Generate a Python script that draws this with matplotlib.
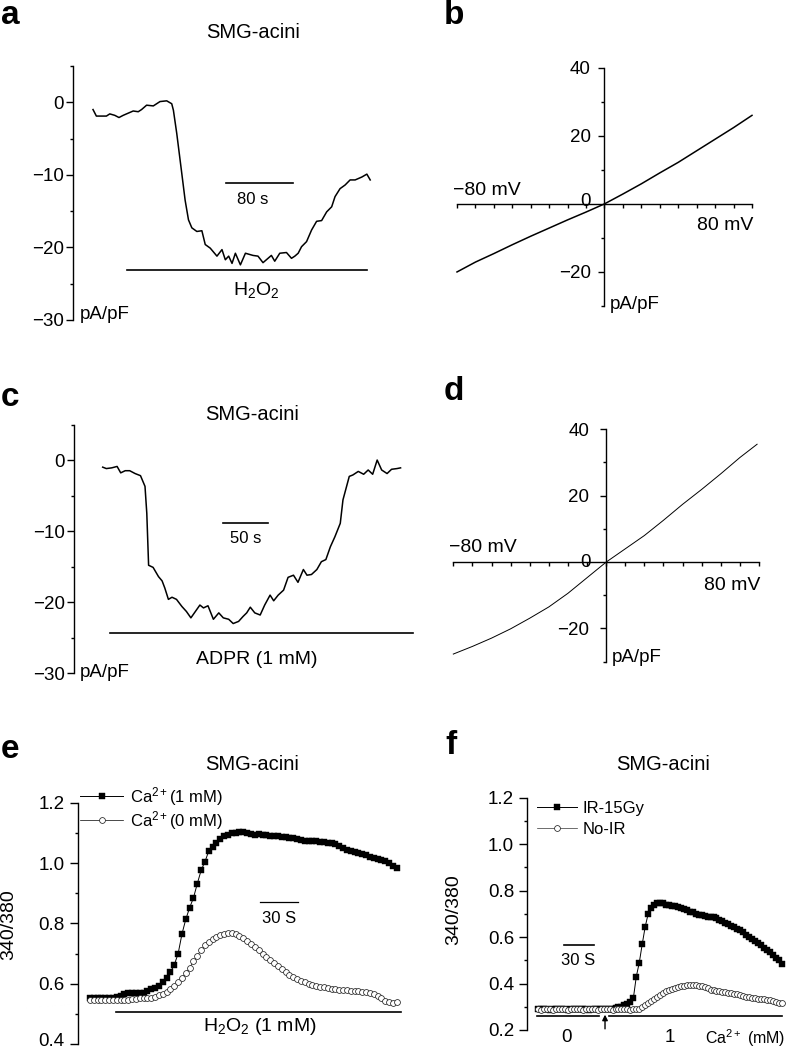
import matplotlib
matplotlib.use('Agg')
import matplotlib.pyplot as plt
import matplotlib.transforms as mtransforms
import numpy as np

plt.rcParams['font.family'] = ['Liberation Sans', 'DejaVu Sans']
plt.rcParams['mathtext.fontset'] = 'custom'
plt.rcParams['mathtext.rm'] = 'Liberation Sans'
plt.rcParams['mathtext.it'] = 'Liberation Sans:italic'
plt.rcParams['mathtext.bf'] = 'Liberation Sans:bold'

# ---------------- data ----------------
# panel a: H2O2-induced current (time in s, current in pA/pF)
a_time = [0, 4, 12, 16, 20, 26, 31, 36, 42, 48, 54, 58, 64, 72, 80, 88, 94, 96, 100, 106,
          110, 114, 118, 124, 130, 134, 140, 148, 154, 158, 162, 166, 170, 176, 182, 191, 197, 203, 207, 213,
          217, 223, 231, 237, 241, 245, 249, 255, 261, 267, 273, 279, 285, 289, 295, 301, 307, 313, 317, 321,
          327, 331]
a_current = [-1.0, -1.9, -1.9, -1.9, -1.6, -1.8, -2.1, -1.8, -1.5, -1.2, -1.3, -1.0, -0.4, -0.5, 0.1, 0.2, -0.2, -1.1, -4.3, -9.8,
             -13.5, -16.2, -17.3, -17.8, -17.7, -19.6, -20.1, -21.2, -20.3, -21.7, -21.2, -22.2, -20.8, -22.4, -20.8, -21.1, -21.2, -22.1, -21.7, -21.1,
             -21.9, -20.8, -20.7, -21.5, -21.2, -20.8, -19.9, -19.2, -17.6, -16.4, -16.3, -15.1, -14.4, -13.0, -11.9, -11.4, -10.7, -10.7, -10.5, -10.3,
             -9.9, -10.7]
a_h2o2_bar = [41, 327]
a_scale = [159, 239]

# panel b: I-V curve
b_voltage = [-80, -70, -60, -50, -40, -30, -20, -10, 0, 10, 20, 30, 40, 50, 60, 70, 80]
b_current = [-20.0, -17.1, -14.6, -12.0, -9.5, -7.1, -4.7, -2.4, 0.0, 2.9, 5.9, 9.1, 12.2, 15.6, 19.0, 22.4, 26.0]

# panel c: ADPR-induced current
c_time = [0, 4, 10, 16, 20, 25, 30, 36, 42, 44, 47, 49, 51, 56, 62, 66, 69, 73, 77, 82,
          88, 93, 98, 103, 108, 112, 117, 123, 129, 134, 140, 145, 151, 156, 160, 164, 169, 175, 180, 186,
          190, 195, 201, 206, 212, 217, 223, 227, 232, 238, 243, 248, 253, 258, 264, 267, 274, 278, 284, 290,
          295, 300, 305, 310, 316, 321, 327, 331]
c_current = [-1.0, -1.2, -1.1, -0.9, -1.8, -1.5, -1.5, -1.9, -2.2, -2.8, -3.7, -7.5, -14.8, -15.1, -16.4, -17.0, -18.0, -19.6, -19.3, -19.6,
             -20.6, -21.3, -22.2, -21.3, -20.4, -20.8, -20.5, -22.4, -21.5, -22.2, -22.4, -23.0, -22.7, -22.0, -21.5, -20.7, -21.5, -21.8, -20.4, -19.0,
             -19.8, -19.0, -18.3, -16.5, -16.2, -17.2, -15.4, -16.2, -16.1, -15.4, -14.3, -14.0, -12.2, -10.8, -8.9, -5.6, -2.3, -2.1, -1.6, -2.0,
             -1.4, -2.0, 0.0, -1.4, -1.9, -1.3, -1.2, -1.1]
c_adpr_bar = [8, 345]
c_scale = [134, 184]

# panel d: I-V curve
d_voltage = [-80, -70, -60, -50, -40, -30, -20, -10, 0, 10, 20, 30, 40, 50, 60, 70, 79]
d_current = [-27.7, -25.4, -22.9, -20.1, -16.9, -13.5, -9.4, -4.7, 0.0, 4.0, 8.0, 12.6, 17.4, 21.9, 26.6, 31.5, 35.5]

# panel e: Fura-2 ratio, H2O2 with/without Ca2+ (sampled every 3 s)
e_ca1 = [0.552, 0.551, 0.553, 0.552, 0.554, 0.552, 0.553, 0.555,
         0.558, 0.565, 0.568, 0.570, 0.568, 0.570, 0.570, 0.575,
         0.581, 0.586, 0.592, 0.605, 0.620, 0.638, 0.663, 0.700,
         0.765, 0.814, 0.852, 0.885, 0.932, 0.976, 1.005, 1.040,
         1.052, 1.065, 1.078, 1.088, 1.094, 1.099, 1.101, 1.103,
         1.103, 1.099, 1.095, 1.093, 1.095, 1.094, 1.093, 1.091,
         1.090, 1.089, 1.087, 1.086, 1.084, 1.082, 1.079, 1.076,
         1.074, 1.073, 1.073, 1.072, 1.071, 1.069, 1.068, 1.066,
         1.063, 1.057, 1.051, 1.043, 1.040, 1.037, 1.034, 1.030,
         1.025, 1.020, 1.016, 1.012, 1.009, 1.006, 1.000, 0.991,
         0.985]
e_ca0 = [0.546, 0.546, 0.545, 0.546, 0.546, 0.545, 0.546, 0.546,
         0.546, 0.546, 0.547, 0.548, 0.549, 0.551, 0.551, 0.551,
         0.554, 0.557, 0.561, 0.566, 0.573, 0.582, 0.592, 0.606,
         0.619, 0.636, 0.652, 0.674, 0.693, 0.711, 0.727, 0.739,
         0.748, 0.755, 0.761, 0.765, 0.767, 0.769, 0.766, 0.759,
         0.750, 0.741, 0.731, 0.721, 0.710, 0.697, 0.687, 0.678,
         0.668, 0.659, 0.650, 0.640, 0.630, 0.622, 0.614, 0.608,
         0.604, 0.600, 0.596, 0.592, 0.590, 0.588, 0.585, 0.583,
         0.581, 0.580, 0.579, 0.578, 0.577, 0.576, 0.576, 0.574,
         0.572, 0.570, 0.566, 0.560, 0.552, 0.543, 0.539, 0.537,
         0.540]
e_time = np.arange(len(e_ca1)) * 3.0
e_h2o2_bar = [20, 243]
e_scale = [133, 163]

# panel f: Fura-2 ratio, IR vs no IR (sampled every 3 s)
f_ir = [0.290, 0.289, 0.290, 0.289, 0.288, 0.290, 0.289, 0.289,
        0.290, 0.289, 0.288, 0.289, 0.290, 0.289, 0.289, 0.290,
        0.289, 0.288, 0.289, 0.290, 0.289, 0.289, 0.290, 0.289,
        0.290, 0.292, 0.294, 0.298, 0.301, 0.307, 0.313, 0.322,
        0.336, 0.430, 0.490, 0.570, 0.645, 0.700, 0.725, 0.740,
        0.745, 0.746, 0.745, 0.740, 0.737, 0.735, 0.732, 0.730,
        0.727, 0.721, 0.716, 0.710, 0.706, 0.701, 0.697, 0.693,
        0.689, 0.687, 0.686, 0.685, 0.680, 0.674, 0.668, 0.661,
        0.655, 0.648, 0.642, 0.636, 0.630, 0.621, 0.611, 0.602,
        0.592, 0.583, 0.574, 0.565, 0.554, 0.546, 0.534, 0.523,
        0.512, 0.501, 0.485]
f_noir = [0.289, 0.288, 0.289, 0.290, 0.289, 0.288, 0.289, 0.289,
          0.290, 0.289, 0.288, 0.289, 0.289, 0.290, 0.289, 0.288,
          0.289, 0.289, 0.290, 0.289, 0.288, 0.289, 0.289, 0.290,
          0.289, 0.288, 0.289, 0.289, 0.290, 0.289, 0.289, 0.288,
          0.289, 0.289, 0.292, 0.298, 0.307, 0.316, 0.325, 0.334,
          0.344, 0.352, 0.359, 0.366, 0.372, 0.376, 0.381, 0.384,
          0.388, 0.390, 0.392, 0.393, 0.393, 0.393, 0.391, 0.388,
          0.385, 0.379, 0.374, 0.371, 0.369, 0.367, 0.364, 0.362,
          0.361, 0.359, 0.356, 0.353, 0.350, 0.346, 0.344, 0.341,
          0.339, 0.337, 0.335, 0.333, 0.332, 0.330, 0.327, 0.324,
          0.320, 0.318, 0.315]
f_time = np.arange(len(f_ir)) * 3.0
f_ca0_bar = [-1, 61]
f_ca1_bar = [71, 246]
f_arrow_t = 67.4
f_scale = [26, 56]

# ---------------- figure ----------------
W, H = 786, 1050
fig = plt.figure(figsize=(W / 100, H / 100), dpi=100)

TICK = 13.5
TXT = 13.5


def px_axes(l, t, r, b):
    ax = fig.add_axes([l / W, 1 - b / H, (r - l) / W, (b - t) / H])
    ax.patch.set_alpha(0)
    return ax


def left_only(ax, pad=2):
    for s in ['top', 'right', 'bottom']:
        ax.spines[s].set_visible(False)
    ax.spines['left'].set_linewidth(1.0)
    ax.set_xticks([])
    ax.tick_params(axis='y', which='major', length=5, width=1.0, labelsize=TICK, pad=pad)
    ax.tick_params(axis='y', which='minor', length=2.5, width=1.0)


def cross_axes(ax, pad):
    ax.spines['left'].set_position(('data', 0))
    ax.spines['bottom'].set_position(('data', 0))
    ax.spines['top'].set_visible(False)
    ax.spines['right'].set_visible(False)
    ax.spines['left'].set_linewidth(1.0)
    ax.spines['bottom'].set_linewidth(1.0)
    ax.set_xlim(-80, 80)
    ax.set_ylim(-30, 40)
    ax.set_xticks(np.arange(-80, 81, 10))
    ax.set_xticklabels([])
    ax.tick_params(axis='x', direction='out', length=3, width=1.0)
    ax.set_yticks([40, 20, -20])
    ax.set_yticks([30, 10, -10, -30], minor=True)
    ax.tick_params(axis='y', which='major', length=4.5, width=1.0, labelsize=TICK, pad=pad)
    ax.tick_params(axis='y', which='minor', length=2.5, width=1.0)


def letter(x, y, s):
    fig.text(x / W, 1 - y / H, s, fontsize=24, fontweight='bold', ha='left', va='center')


def title(x, y, s):
    fig.text(x / W, 1 - y / H, s, fontsize=14.5, ha='center', va='center')


# ---- a ----
ax = px_axes(73, 66, 380, 320)
left_only(ax, pad=1.7)
ax.set_xlim(-23.9, 342.7)
ax.set_ylim(-30, 5)
ax.set_yticks([0, -10, -20, -30])
ax.set_yticks([5, -5, -15, -25], minor=True)
ax.plot(a_time, a_current, color='black', lw=1.1, clip_on=False)
ax.plot(a_h2o2_bar, [-23.1, -23.1], color='black', lw=1.2, clip_on=False)
ax.plot(a_scale, [-11.1, -11.1], color='black', lw=1.2, clip_on=False)
ax.text(191, -13.4, '80 s', fontsize=12, ha='center', va='center')
ax.text(195, -25.8, r'H$_2$O$_2$', fontsize=14, ha='center', va='center')
ax.text(-15.5, -29.2, 'pA/pF', fontsize=TXT, ha='left', va='center', clip_on=False)
letter(1, 16, 'a')
title(253, 33, 'SMG-acini')

# ---- b ----
ax = px_axes(457, 67.7, 752, 306)
cross_axes(ax, pad=5.5)
ax.plot(b_voltage, b_current, color='black', lw=1.1, clip_on=False)
ax.text(-82, 3.9, '\u221280 mV', fontsize=14, ha='left', va='center')
ax.text(80.5, -6.3, '80 mV', fontsize=14, ha='right', va='center')
ax.text(-7.5, 0.7, '0', fontsize=TICK, ha='right', va='center')
ax.text(3, -29.5, 'pA/pF', fontsize=TXT, ha='left', va='center', clip_on=False)
letter(444, 15, 'b')

# ---- c ----
ax = px_axes(74, 424.5, 420, 673.3)
left_only(ax, pad=1.7)
ax.set_xlim(-31.9, 352.6)
ax.set_ylim(-30, 5)
ax.set_yticks([0, -10, -20, -30])
ax.set_yticks([5, -5, -15, -25], minor=True)
ax.plot(c_time, c_current, color='black', lw=1.1, clip_on=False)
ax.plot(c_adpr_bar, [-24.4, -24.4], color='black', lw=1.2, clip_on=False)
ax.plot(c_scale, [-8.8, -8.8], color='black', lw=1.2, clip_on=False)
ax.text(159, -11.0, '50 s', fontsize=12, ha='center', va='center')
ax.text(171, -28.1, 'ADPR (1 mM)', fontsize=14, ha='center', va='center')
ax.text(-25.2, -29.9, 'pA/pF', fontsize=TXT, ha='left', va='center', clip_on=False)
letter(1, 398, 'c')
title(252, 415, 'SMG-acini')

# ---- d ----
ax = px_axes(453.3, 429.3, 759, 661.7)
cross_axes(ax, pad=7.5)
ax.plot(d_voltage, d_current, color='black', lw=0.7, clip_on=False)
ax.text(-82, 4.3, '\u221280 mV', fontsize=14, ha='left', va='center')
ax.text(80.5, -7.0, '80 mV', fontsize=14, ha='right', va='center')
ax.text(-8.2, 0.0, '0', fontsize=TICK, ha='right', va='center')
ax.text(3, -28.7, 'pA/pF', fontsize=TXT, ha='left', va='center', clip_on=False)
letter(444, 392, 'd')

# ---- e ----
ax = px_axes(77.7, 802.7, 405, 1044)
left_only(ax, pad=3.5)
ax.set_xlim(-9.6, 246.5)
ax.set_ylim(0.4, 1.2)
ax.set_yticks([0.4, 0.6, 0.8, 1.0, 1.2])
ax.set_yticklabels(['0.4', '0.6', '0.8', '1.0', '1.2'])
ax.set_yticks([0.5, 0.7, 0.9, 1.1], minor=True)
ax.tick_params(axis='y', which='major', length=6)
# keep the lowest tick label inside the canvas
lowest = ax.get_yticklabels()[0]
lowest.set_transform(lowest.get_transform() +
                     mtransforms.ScaledTranslation(0, 4 / 100, fig.dpi_scale_trans))
ax.set_ylabel('340/380', fontsize=14)
ax.yaxis.set_label_coords(-0.1855, 0.493)
l1, = ax.plot(e_time, e_ca1, color='black', lw=0.7, marker='s', ms=3.8,
              mfc='black', mec='black', mew=0.3, label='Ca$^{2+}$(1 mM)', clip_on=False)
l0, = ax.plot(e_time, e_ca0, color='black', lw=0.5, marker='o', ms=4.2,
              mfc='white', mec='#222222', mew=0.55, label='Ca$^{2+}$(0 mM)', clip_on=False)
ax.plot(e_h2o2_bar, [0.505, 0.505], color='black', lw=1.2, clip_on=False)
ax.plot(e_scale, [0.872, 0.872], color='black', lw=0.9, clip_on=False)
ax.text(148, 0.817, '30 S', fontsize=12, ha='center', va='center')
ax.text(133, 0.457, r'H$_2$O$_2$ (1 mM)', fontsize=14, ha='center', va='center')
ax.legend(handles=[l1, l0], loc='upper left', bbox_to_anchor=(80 / W, 1 - 785 / H),
          bbox_transform=fig.transFigure, frameon=False, fontsize=12, handlelength=2.6,
          handletextpad=0.4, labelspacing=0.05, borderpad=0, borderaxespad=0, numpoints=1)
letter(1, 749, 'e')
title(252, 765, 'SMG-acini')

# ---- f ----
ax = px_axes(526.7, 797.7, 786, 1030)
left_only(ax, pad=3)
ax.set_xlim(-11.7, 250.2)
ax.set_ylim(0.2, 1.2)
ax.set_yticks([0.2, 0.4, 0.6, 0.8, 1.0, 1.2])
ax.set_yticklabels(['0.2', '0.4', '0.6', '0.8', '1.0', '1.2'])
ax.set_yticks([0.3, 0.5, 0.7, 0.9, 1.1], minor=True)
ax.tick_params(axis='y', which='major', length=6)
ax.set_ylabel('340/380', fontsize=14)
ax.yaxis.set_label_coords(-0.2495, 0.5166)
m1, = ax.plot(f_time, f_ir, color='black', lw=0.7, marker='s', ms=3.8,
              mfc='black', mec='black', mew=0.3, label='IR-15Gy', clip_on=False)
m0, = ax.plot(f_time, f_noir, color='#333333', lw=0.5, marker='o', ms=4.2,
              mfc='white', mec='#222222', mew=0.55, label='No-IR', clip_on=False)
ax.plot(f_ca0_bar, [0.26, 0.26], color='black', lw=1.2, clip_on=False)
ax.plot(f_ca1_bar, [0.26, 0.26], color='black', lw=1.2, clip_on=False)
ax.annotate('', xy=(f_arrow_t, 0.266), xytext=(f_arrow_t, 0.205),
            arrowprops=dict(arrowstyle='-|>', lw=1.0, color='black', mutation_scale=8,
                            shrinkA=0, shrinkB=0), annotation_clip=False)
ax.plot(f_scale, [0.566, 0.566], color='black', lw=1.2, clip_on=False)
ax.text(40, 0.501, '30 S', fontsize=12, ha='center', va='center')
ax.text(28.7, 0.166, '0', fontsize=TICK, ha='center', va='center', clip_on=False)
ax.text(133, 0.166, '1', fontsize=TICK, ha='center', va='center', clip_on=False)
ax.text(208.8, 0.166, 'Ca$^{2+}$ (mM)', fontsize=11.5, ha='center', va='center', clip_on=False)
ax.legend(handles=[m1, m0], loc='upper left', bbox_to_anchor=(536.7 / W, 1 - 801 / H),
          bbox_transform=fig.transFigure, frameon=False, fontsize=12, handlelength=2.4,
          handletextpad=0.35, labelspacing=0.35, borderpad=0, borderaxespad=0, numpoints=1)
letter(445, 746, 'f')
title(663, 765, 'SMG-acini')

fig.savefig('out.png', dpi=100)
